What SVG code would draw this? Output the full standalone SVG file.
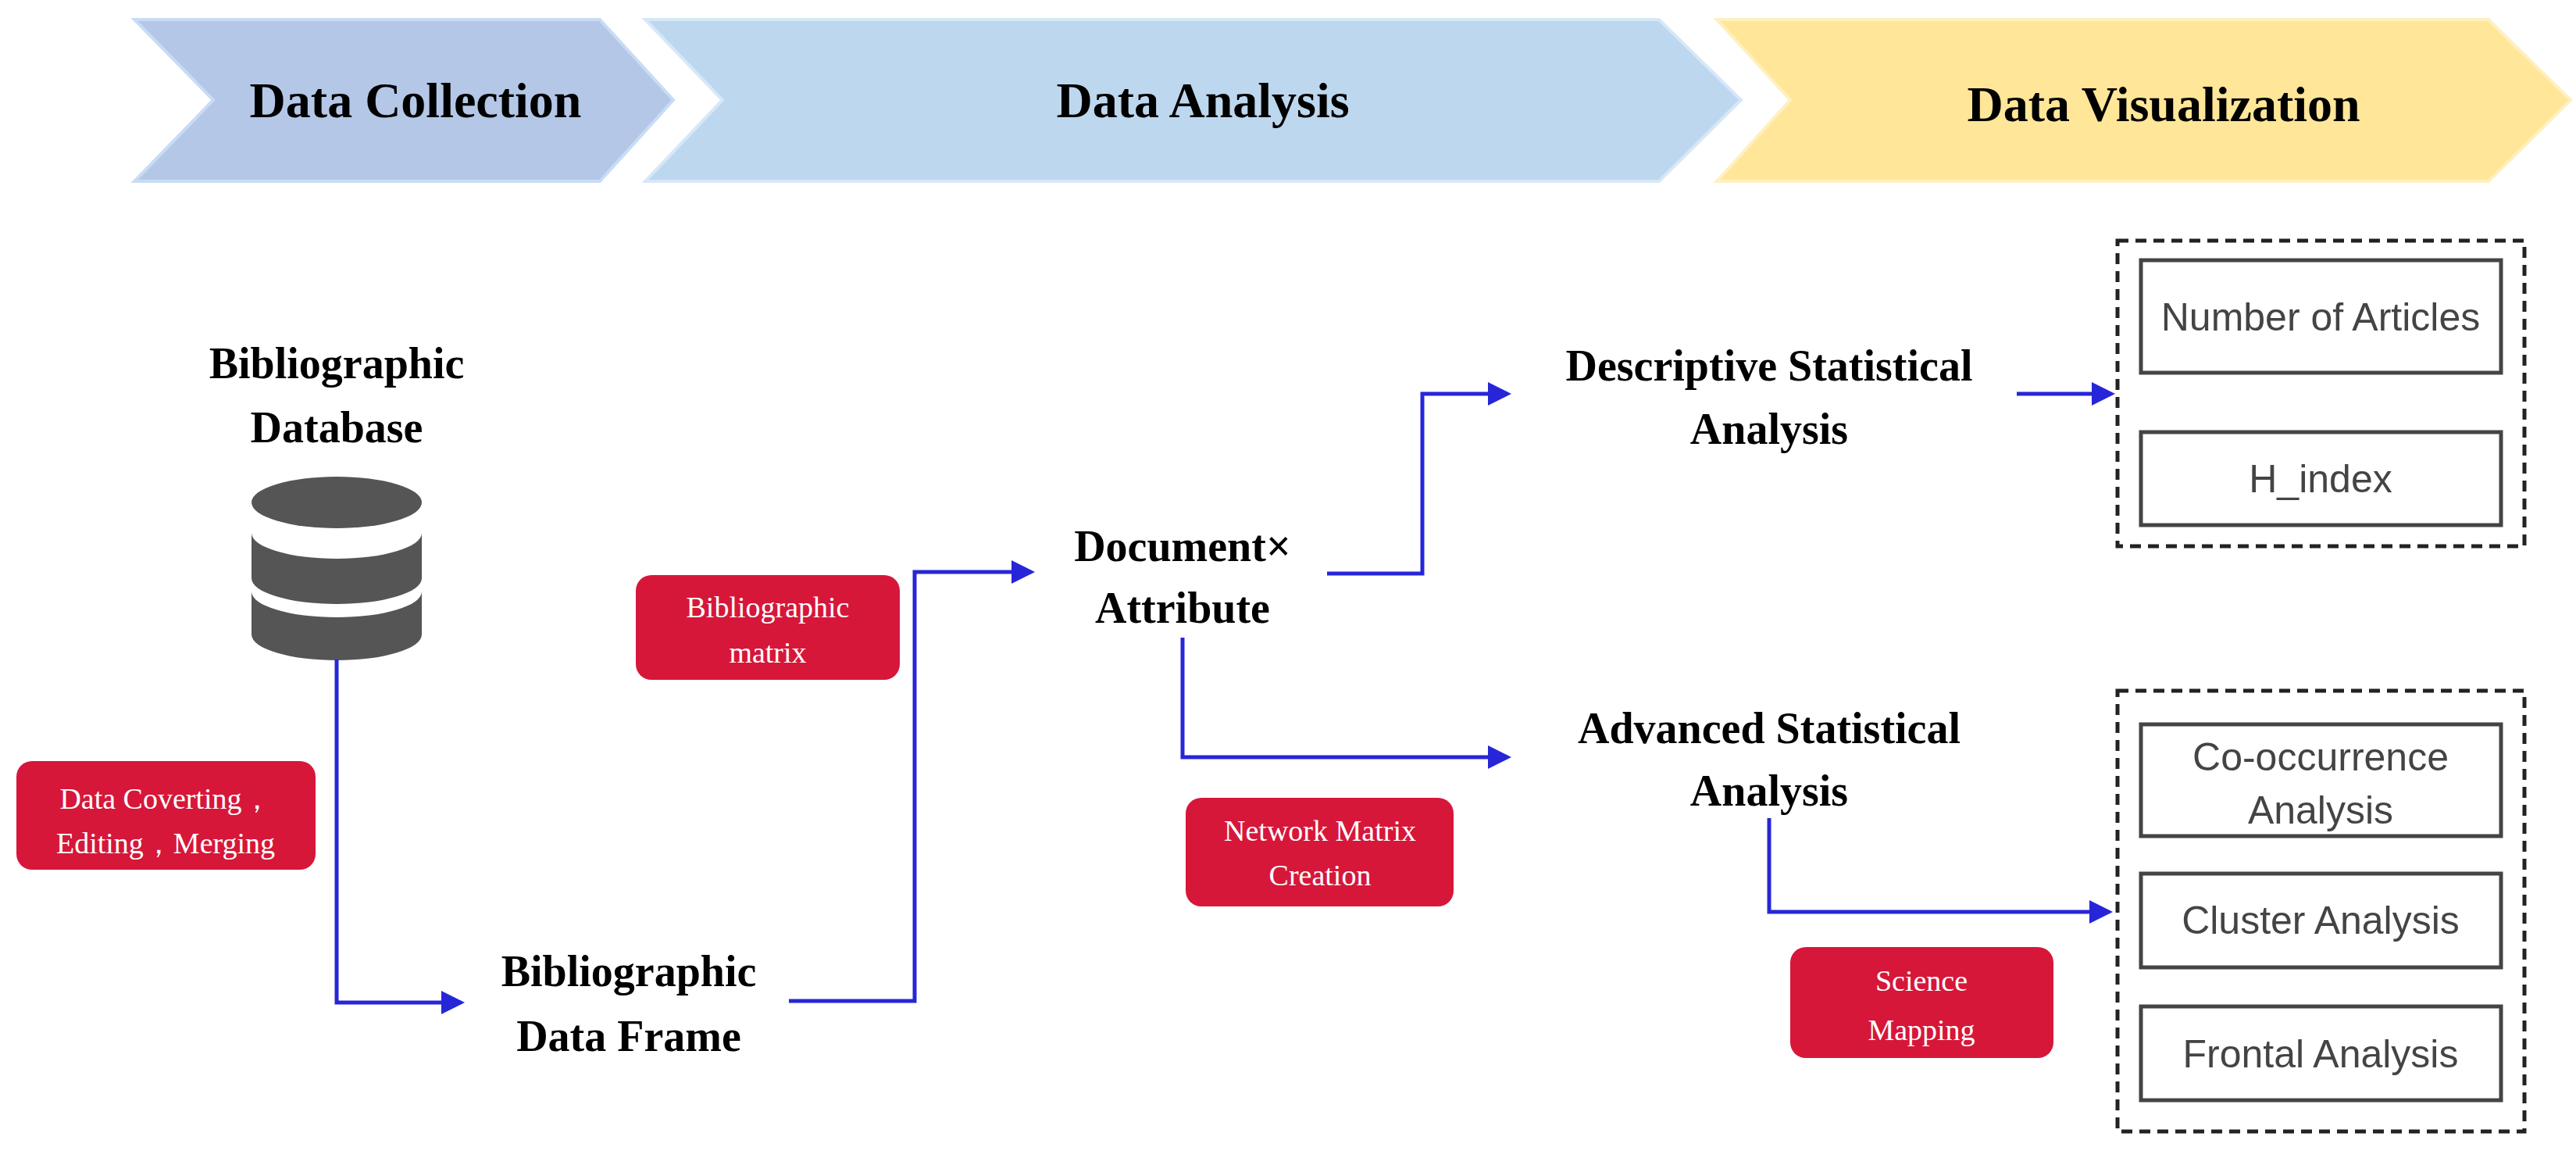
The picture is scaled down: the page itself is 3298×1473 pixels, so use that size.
<svg xmlns="http://www.w3.org/2000/svg" width="3298" height="1473" viewBox="0 0 3298 1473">
<style>
.t{font-family:"Liberation Serif","Times New Roman",serif;font-weight:bold;fill:#000;text-anchor:middle}
.h{font-size:64px}
.n{font-size:56px}
.r{fill:#d6173a}
.rt{font-family:"Liberation Serif",serif;font-size:38px;fill:#fff;text-anchor:middle}
.b{fill:#fff;stroke:#444;stroke-width:5}
.bt{font-family:"Liberation Sans",Arial,sans-serif;font-size:50px;fill:#444;text-anchor:middle}
.d{fill:none;stroke:#222;stroke-width:5;stroke-dasharray:14 9}
.c{fill:none;stroke:#2626d8;stroke-width:5}
</style>
<defs><marker id="a" markerWidth="6" markerHeight="6" refX="5" refY="3" orient="auto" markerUnits="strokeWidth"><path d="M0,0 L6,3 L0,6 Z" fill="#2626d8"/></marker></defs>
<g id="phases">
<polygon points="172,25 768,25 862,128 768,232 172,232 273,128" fill="#b4c7e7" stroke="#c9dcf5" stroke-width="4"/>
<polygon points="826,25 2124,25 2229,128 2124,232 826,232 925,128" fill="#bdd7ee" stroke="#d6e8f8" stroke-width="4"/>
<polygon points="2198,25 3186,25 3291,128 3186,232 2198,232 2292,128" fill="#ffe699" stroke="#fff0c0" stroke-width="4"/>
<text class="t h" x="532" y="150">Data Collection</text>
<text class="t h" x="1540" y="150">Data Analysis</text>
<text class="t h" x="2770" y="155">Data Visualization</text>
</g>
<g id="database">
<text class="t n" x="431" y="484">Bibliographic</text>
<text class="t n" x="431" y="566">Database</text>
<ellipse cx="431" cy="643" rx="109" ry="33" fill="#555"/>
<path d="M322,682 A109,33 0 0 0 540,682 L540,740 A109,33 0 0 1 322,740 Z" fill="#555"/>
<path d="M322,757 A109,33 0 0 0 540,757 L540,812 A109,33 0 0 1 322,812 Z" fill="#555"/>
</g>
<g id="frame"><text class="t n" x="805" y="1262">Bibliographic</text><text class="t n" x="805" y="1345">Data Frame</text></g>
<g id="doc"><text class="t n" x="1514" y="718">Document×</text><text class="t n" x="1514" y="797">Attribute</text></g>
<g id="desc"><text class="t n" x="2265" y="487">Descriptive Statistical</text><text class="t n" x="2265" y="568">Analysis</text></g>
<g id="adv"><text class="t n" x="2265" y="951">Advanced Statistical</text><text class="t n" x="2265" y="1031">Analysis</text></g>
<g id="lbl1"><rect class="r" x="21" y="974" width="383" height="139" rx="20"/><text class="rt" x="212" y="1035">Data Coverting，</text><text class="rt" x="212" y="1092">Editing，Merging</text></g>
<g id="lbl2"><rect class="r" x="814" y="736" width="338" height="134" rx="20"/><text class="rt" x="983" y="790">Bibliographic</text><text class="rt" x="983" y="848">matrix</text></g>
<g id="lbl3"><rect class="r" x="1518" y="1021" width="343" height="139" rx="20"/><text class="rt" x="1690" y="1076">Network Matrix</text><text class="rt" x="1690" y="1133">Creation</text></g>
<g id="lbl4"><rect class="r" x="2292" y="1212" width="337" height="142" rx="20"/><text class="rt" x="2460" y="1268">Science</text><text class="rt" x="2460" y="1331">Mapping</text></g>
<g id="vis1">
<rect class="d" x="2711" y="308" width="521" height="391"/>
<rect class="b" x="2741" y="333" width="461" height="144"/><text class="bt" x="2971" y="423">Number of Articles</text>
<rect class="b" x="2741" y="553" width="461" height="119"/><text class="bt" x="2971" y="630">H_index</text>
</g>
<g id="vis2">
<rect class="d" x="2711" y="884" width="521" height="564"/>
<rect class="b" x="2741" y="927" width="461" height="143"/><text class="bt" x="2971" y="986">Co-occurrence</text><text class="bt" x="2971" y="1054">Analysis</text>
<rect class="b" x="2741" y="1118" width="461" height="120"/><text class="bt" x="2971" y="1195">Cluster Analysis</text>
<rect class="b" x="2741" y="1288" width="461" height="120"/><text class="bt" x="2971" y="1366">Frontal Analysis</text>
</g>
<g id="connectors">
<path class="c" d="M431,844 V1283 H590" marker-end="url(#a)"/>
<path class="c" d="M1010,1281 H1171 V732 H1320" marker-end="url(#a)"/>
<path class="c" d="M1699,734 H1821 V504 H1930" marker-end="url(#a)"/>
<path class="c" d="M2582,504 H2703" marker-end="url(#a)"/>
<path class="c" d="M1514,816 V969 H1930" marker-end="url(#a)"/>
<path class="c" d="M2265,1047 V1167 H2700" marker-end="url(#a)"/>
</g>
</svg>
